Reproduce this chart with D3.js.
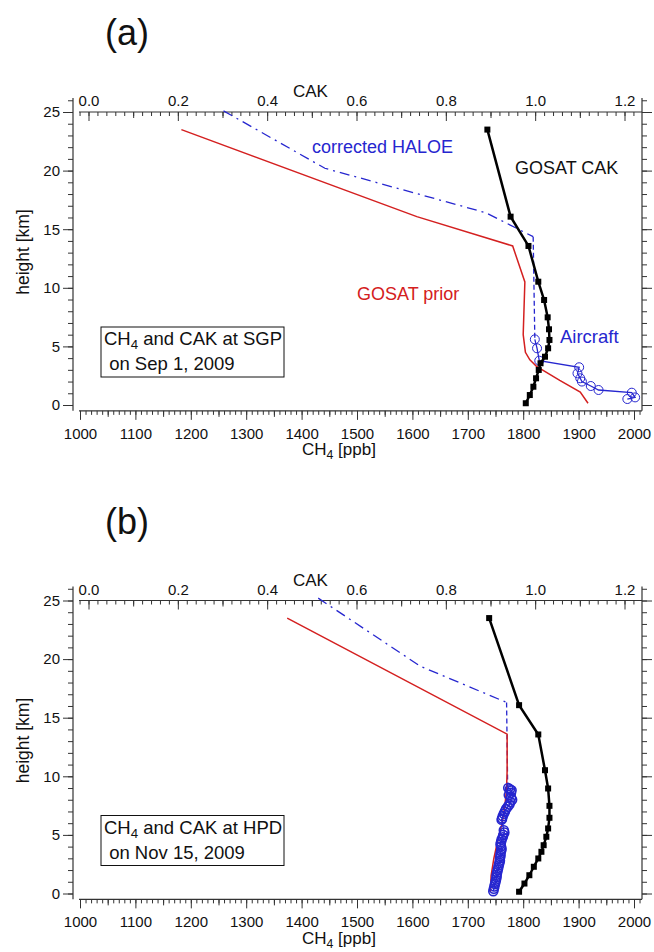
<!DOCTYPE html>
<html>
<head>
<meta charset="utf-8">
<script src="https://cdn.jsdelivr.net/npm/d3@7"></script>
<style>
  body { margin: 0; background: #fff; }
  text { font-family: "Liberation Sans", Arial, sans-serif; }
</style>
</head>
<body>
<svg id="chart"></svg>
<script>
// GOSAT CAK levels (km), shared by both panels
const cakLevels = [23.5, 16.07, 13.57, 10.52, 8.96, 7.48, 6.46, 5.55, 4.84, 4.12, 3.56, 2.99, 2.28, 1.56, 0.85, 0.15];
const cakSGP = [0.893, 0.945, 0.985, 1.007, 1.020, 1.028, 1.031, 1.032, 1.029, 1.022, 1.012, 1.008, 1.002, 0.996, 0.988, 0.979];
const cakHPD = [0.897, 0.964, 1.007, 1.022, 1.029, 1.032, 1.032, 1.029, 1.025, 1.019, 1.014, 1.007, 0.997, 0.987, 0.976, 0.964];

// GOSAT prior CH4 (ppb)
const priorHeightSGP = [23.5, 16.07, 13.57, 10.5, 6.0, 4.5, 3.85, 3.3, 2.1, 1.1, 0.15];
const priorSGP = [1183, 1608, 1781, 1803, 1800, 1804, 1812, 1824, 1866, 1903, 1917];
const priorHeightHPD = [23.5, 13.6, 10.5, 9.0, 7.5, 6.0, 4.5, 3.0, 1.5, 0.15];
const priorHPD = [1374, 1771, 1771, 1770, 1767, 1762, 1754, 1747, 1742, 1741];

// corrected HALOE CH4 (ppb)
const haloeHeightSGP = [25.1, 20.2, 16.4, 14.36, 5.6];
const haloeSGP = [1259, 1442, 1733, 1818, 1821];
const haloeHeightHPD = [25.2, 19.4, 16.3, 9.0];
const haloeHPD = [1430, 1614, 1770, 1772];

// aircraft CH4 (ppb)
const airHeightSGP = [5.6, 4.84, 3.78, 3.22, 2.7, 2.28, 2.0, 1.62, 1.28, 1.05, 0.65, 0.51];
const airSGP = [1821, 1825, 1829, 1901, 1898, 1903, 1906, 1922, 1936, 1996, 2002, 1988];
const airHeightHPD = [9.0, 8.9, 8.8, 8.6, 8.4, 8.2, 8.0, 7.8, 7.6, 7.4, 7.2, 7.0, 6.8, 6.6, 6.4, 6.3,
                      5.4, 5.2, 5.0, 4.8, 4.6, 4.4, 4.2, 4.0, 3.8, 3.6, 3.4, 3.2, 3.0, 2.8, 2.6, 2.4,
                      2.2, 2.0, 1.8, 1.6, 1.4, 1.2, 1.0, 0.8, 0.6, 0.4, 0.2];
const airHPD = [1773, 1776, 1779, 1778, 1774, 1778, 1780, 1777, 1775, 1772, 1769, 1767, 1765, 1763, 1762, 1761,
                1765, 1766, 1764, 1763, 1761, 1760, 1759, 1760, 1761, 1760, 1759, 1759, 1758, 1758, 1757, 1756,
                1755, 1754, 1753, 1752, 1752, 1751, 1750, 1749, 1748, 1747, 1746];

const heightTicks = [0, 5, 10, 15, 20, 25];
const ch4Ticks = d3.range(1000, 2001, 100);
const cakTicks = [0, 0.2, 0.4, 0.6, 0.8, 1.0, 1.2];

const red = "#d42020", blue = "#2626cf", axisColor = "#333";

const panels = [
  { tag: "(a)", dy: 0, site: "SGP", date: " on Sep 1, 2009",
    cak: cakSGP, priorH: priorHeightSGP, prior: priorSGP,
    haloeH: haloeHeightSGP, haloe: haloeSGP, haloeSplit: 3,
    airH: airHeightSGP, air: airSGP, airW: 1,
    lbl: { haloe: [312, 153], cak: [515, 174], prior: [357, 300], air: [560, 343] } },
  { tag: "(b)", dy: 488.5, site: "HPD", date: " on Nov 15, 2009",
    cak: cakHPD, priorH: priorHeightHPD, prior: priorHPD,
    haloeH: haloeHeightHPD, haloe: haloeHPD, haloeSplit: 2,
    airH: airHeightHPD, air: airHPD, airW: 1.6,
    lbl: { haloe: [345, 643], cak: [517, 666], prior: [355, 788], air: [563, 841] } }
];

const svg = d3.select("#chart").attr("width", 654).attr("height", 952);
svg.append("rect").attr("width", 654).attr("height", 952).attr("fill", "#fff");

function cleanAxis(sel) {
  sel.select(".domain").remove();
  sel.selectAll("line").attr("stroke", axisColor).attr("stroke-width", 1);
  sel.selectAll("text").attr("fill", "#111").style("font-size", "15px");
}

function ch4Label(g, xx, yy, text, rest, size) {
  const t = g.append("text").attr("x", xx).attr("y", yy).style("font-size", size + "px").attr("fill", "#111");
  t.append("tspan").text(text);
  t.append("tspan").attr("dy", 4).style("font-size", (size * 0.72) + "px").text("4");
  t.append("tspan").attr("dy", -4).text(rest);
  return t;
}

function drawPanel(p) {
  const g = svg.append("g").attr("transform", "translate(0," + p.dy + ")");

  const x = d3.scaleLinear().domain([1000, 2000]).range([80, 634]);
  const xk = d3.scaleLinear().domain([0, 1.2]).range([88.5, 624.5]);
  const y = d3.scaleLinear().domain([0, 25]).range([405, 112]);

  // panel tag
  g.append("text").attr("x", 105).attr("y", 45).style("font-size", "36px").attr("fill", "#111").text(p.tag);

  // axis lines
  const frame = g.append("g").attr("stroke", axisColor).attr("stroke-width", 1.2);
  frame.append("line").attr("x1", 73).attr("x2", 73).attr("y1", y(26.2)).attr("y2", y(-0.5));
  frame.append("line").attr("x1", 642).attr("x2", 642).attr("y1", y(26.2)).attr("y2", y(-0.5));
  frame.append("line").attr("x1", 79).attr("x2", 642).attr("y1", y(25)).attr("y2", y(25));
  frame.append("line").attr("x1", 79).attr("x2", 642).attr("y1", y(-0.5)).attr("y2", y(-0.5));

  // left axis
  g.append("g").attr("transform", "translate(73,0)")
    .call(d3.axisLeft(y).tickValues(d3.range(0, 27)).tickSize(5).tickFormat(""))
    .call(cleanAxis);
  g.append("g").attr("transform", "translate(73,0)")
    .call(d3.axisLeft(y).tickValues(heightTicks).tickSize(10).tickPadding(3).tickFormat(d3.format("d")))
    .call(cleanAxis);

  // right axis
  g.append("g").attr("transform", "translate(642,0)")
    .call(d3.axisRight(y).tickValues(d3.range(0, 27)).tickSize(5).tickFormat(""))
    .call(cleanAxis);
  g.append("g").attr("transform", "translate(642,0)")
    .call(d3.axisRight(y).tickValues(heightTicks).tickSize(10).tickFormat(""))
    .call(cleanAxis);

  // bottom CH4 axis
  const yb = y(-0.5);
  g.append("g").attr("transform", "translate(0," + yb + ")")
    .call(d3.axisBottom(x).tickValues(d3.range(1000, 2011, 10)).tickSize(4).tickFormat(""))
    .call(cleanAxis);
  g.append("g").attr("transform", "translate(0," + yb + ")")
    .call(d3.axisBottom(x).tickValues(d3.range(1050, 2000, 100)).tickSize(6).tickFormat(""))
    .call(cleanAxis);
  g.append("g").attr("transform", "translate(0," + yb + ")")
    .call(d3.axisBottom(x).tickValues(ch4Ticks).tickSize(9).tickPadding(8).tickFormat(d3.format("d")))
    .call(cleanAxis);

  // top CAK axis, ticks pointing into the plot
  const yt = y(25);
  g.append("g").attr("transform", "translate(0," + yt + ")")
    .call(d3.axisBottom(xk).tickValues(d3.range(-1, 62).map(i => i * 0.02)).tickSize(4).tickFormat(""))
    .call(cleanAxis);
  g.append("g").attr("transform", "translate(0," + yt + ")")
    .call(d3.axisBottom(xk).tickValues([0.1, 0.3, 0.5, 0.7, 0.9, 1.1]).tickSize(6).tickFormat(""))
    .call(cleanAxis);
  g.append("g").attr("transform", "translate(0," + yt + ")")
    .call(d3.axisBottom(xk).tickValues(cakTicks).tickSize(9).tickFormat(""))
    .call(cleanAxis);
  g.append("g").attr("transform", "translate(0," + yt + ")")
    .call(d3.axisTop(xk).tickValues(cakTicks).tickSize(0).tickPadding(6).tickFormat(d3.format(".1f")))
    .call(cleanAxis);

  // axis titles
  g.append("text").attr("x", 293).attr("y", 97).style("font-size", "17px").attr("fill", "#111").text("CAK");
  g.append("text").attr("transform", "translate(29,252) rotate(-90)").attr("text-anchor", "middle")
    .style("font-size", "17.5px").attr("fill", "#111").text("height [km]");
  ch4Label(g, 302, 455, "CH", " [ppb]", 17);

  // annotation box
  g.append("rect").attr("x", 101).attr("y", 327).attr("width", 183).attr("height", 50)
    .attr("fill", "#fff").attr("stroke", "#111").attr("stroke-width", 1);
  ch4Label(g, 104, 345, "CH", " and CAK at " + p.site, 18.5);
  g.append("text").attr("x", 104).attr("y", 370).style("font-size", "18.5px").attr("fill", "#111")
    .style("white-space", "pre").text(p.date);

  const ch4Line = d3.line().x(d => x(d[0])).y(d => y(d[1]));
  const cakLine = d3.line().x(d => xk(d[0])).y(d => y(d[1]));

  // corrected HALOE: dash-dot above the tropopause, dashed below
  const haloePts = d3.zip(p.haloe, p.haloeH);
  g.append("path").attr("d", ch4Line(haloePts.slice(0, p.haloeSplit + 1)))
    .attr("fill", "none").attr("stroke", blue).attr("stroke-width", 1.3).attr("stroke-dasharray", "10,5,2,5");
  g.append("path").attr("d", ch4Line(haloePts.slice(p.haloeSplit)))
    .attr("fill", "none").attr("stroke", blue).attr("stroke-width", 1.3).attr("stroke-dasharray", "5,3");

  // HALOE label sits on an opaque background
  const hl = g.append("text").attr("x", p.lbl.haloe[0]).attr("y", p.lbl.haloe[1])
    .style("font-size", "18px").attr("fill", blue).text("corrected HALOE");
  const bb = hl.node().getBBox();
  g.insert("rect", () => hl.node()).attr("x", bb.x - 1).attr("y", bb.y).attr("width", bb.width + 1)
    .attr("height", bb.height).attr("fill", "#fff");

  // GOSAT prior
  g.append("path").attr("d", ch4Line(d3.zip(p.prior, p.priorH)))
    .attr("fill", "none").attr("stroke", red).attr("stroke-width", 1.5);

  // aircraft profile
  const airPts = d3.zip(p.air, p.airH);
  g.append("path").attr("d", ch4Line(airPts))
    .attr("fill", "none").attr("stroke", blue).attr("stroke-width", 1.3);
  g.selectAll(".air").data(airPts).join("circle").attr("class", "air")
    .attr("cx", d => x(d[0])).attr("cy", d => y(d[1])).attr("r", 4.5)
    .attr("fill", "none").attr("stroke", blue).attr("stroke-width", p.airW);

  // GOSAT CAK
  const cakPts = d3.zip(p.cak, cakLevels);
  g.append("path").attr("d", cakLine(cakPts))
    .attr("fill", "none").attr("stroke", "#000").attr("stroke-width", 2.5);
  g.selectAll(".cakm").data(cakPts).join("rect").attr("class", "cakm")
    .attr("x", d => xk(d[0]) - 3).attr("y", d => y(d[1]) - 3)
    .attr("width", 6).attr("height", 6).attr("fill", "#000");

  // series labels
  g.append("text").attr("x", p.lbl.cak[0]).attr("y", p.lbl.cak[1]).style("font-size", "18px").attr("fill", "#111").text("GOSAT CAK");
  g.append("text").attr("x", p.lbl.prior[0]).attr("y", p.lbl.prior[1]).style("font-size", "18px").attr("fill", red).text("GOSAT prior");
  g.append("text").attr("x", p.lbl.air[0]).attr("y", p.lbl.air[1]).style("font-size", "18.5px").attr("fill", blue).text("Aircraft");
}

panels.forEach(drawPanel);
</script>
</body>
</html>
